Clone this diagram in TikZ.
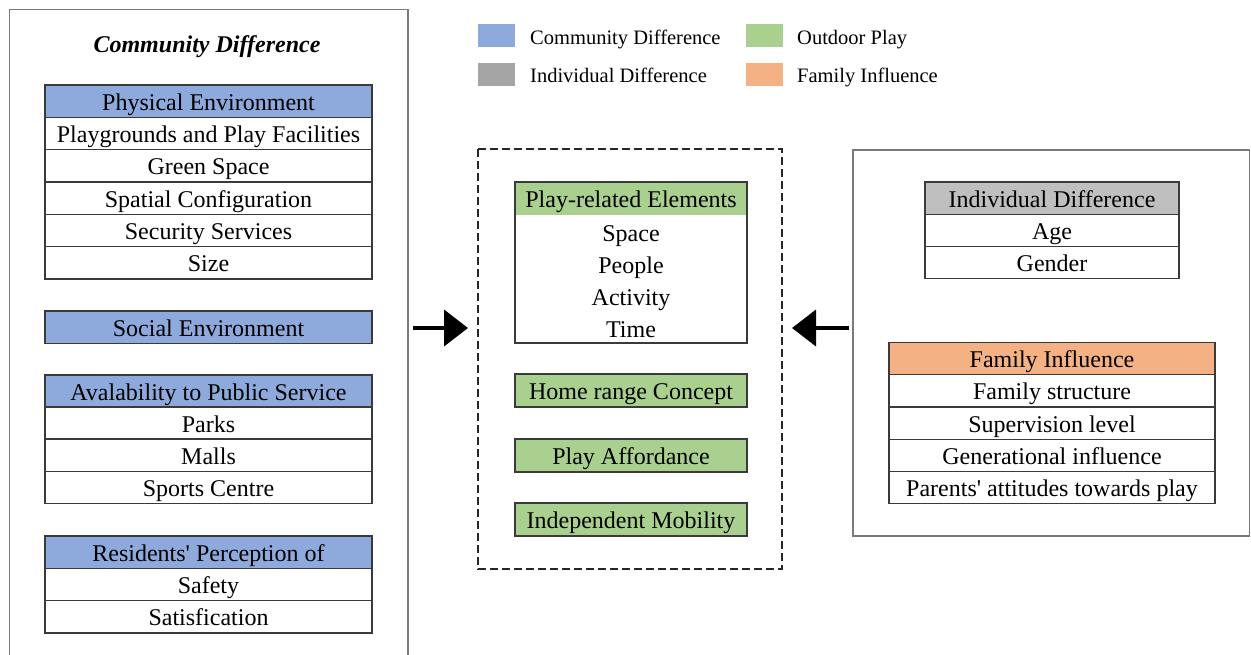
\documentclass[tikz,border=0pt]{standalone}
\usepackage{fontspec}
\setmainfont{Liberation Serif}
\usetikzlibrary{arrows.meta}
\definecolor{cblue}{HTML}{8EA9DB}
\definecolor{cgreen}{HTML}{A9D08E}
\definecolor{cgrayh}{HTML}{BFBFBF}
\definecolor{cgrayl}{HTML}{A5A5A5}
\definecolor{corange}{HTML}{F4B183}
\definecolor{cline}{HTML}{3A3A3A}
\definecolor{cframe}{HTML}{7A7A7A}
\begin{document}
\begin{tikzpicture}[x=1pt,y=-1pt,
  txt/.style={font=\fontsize{24}{28}\selectfont, inner sep=0pt, text=black, text height=22pt, text depth=4pt},
  cell/.style={txt, draw=cline, line width=1.3pt, minimum height=32.3pt, anchor=center},
  lwide/.style={cell, minimum width=327pt},
  cwide/.style={cell, minimum width=232pt, fill=cgreen},
  bluehead/.style={fill=cblue},
  frame/.style={draw=cframe, line width=1.4pt},
  legsw/.style={minimum width=37pt, minimum height=23pt, inner sep=0pt},
  legtxt/.style={font=\fontsize{20.5}{24}\selectfont, inner sep=0pt, anchor=west, text height=19pt, text depth=3pt},
  bigarrow/.style={line width=4pt, -{Triangle[length=24pt,width=36pt]}}
]
\useasboundingbox (0,0) rectangle (1251,654);
\clip (0,0) rectangle (1251,654);

% ---------------- left frame ----------------
\draw[frame] (9.5,9.5) rectangle (408,700);
\node[font=\fontsize{24}{28}\selectfont\bfseries\itshape, inner sep=0pt, text height=22pt, text depth=4pt] (ltitle) at (207,43) {Community Difference};

% Physical environment
\node[lwide, bluehead] (pe) at (208.5,101.2) {Physical Environment};
\node[lwide] (pe1) at (208.5,133.5) {Playgrounds and Play Facilities};
\node[lwide] (pe2) at (208.5,165.8) {Green Space};
\node[lwide] (pe3) at (208.5,198.2) {Spatial Configuration};
\node[lwide] (pe4) at (208.5,230.5) {Security Services};
\node[lwide] (pe5) at (208.5,262.8) {Size};

% Social environment
\node[lwide, bluehead] (se) at (208.5,327) {Social Environment};

% Availability
\node[lwide, bluehead] (av) at (208.5,391) {Avalability to Public Service};
\node[lwide] (av1) at (208.5,423) {Parks};
\node[lwide] (av2) at (208.5,455.2) {Malls};
\node[lwide] (av3) at (208.5,487.4) {Sports Centre};

% Residents
\node[lwide, bluehead] (rp) at (208.5,552.2) {Residents\textquotesingle\ Perception of};
\node[lwide] (rp1) at (208.5,584.5) {Safety};
\node[lwide] (rp2) at (208.5,616.8) {Satisfication};

% ---------------- legend ----------------
\node[legsw, fill=cblue] (lg1) at (496.5,35.5) {};
\node[legtxt] (lg1t) at (530,36) {Community Difference};
\node[legsw, fill=cgrayl] (lg2) at (496.5,74) {};
\node[legtxt] (lg2t) at (530,74) {Individual Difference};
\node[legsw, fill=cgreen] (lg3) at (764.5,35.5) {};
\node[legtxt] (lg3t) at (797,36) {Outdoor Play};
\node[legsw, fill=corange] (lg4) at (764.5,74) {};
\node[legtxt] (lg4t) at (797,74) {Family Influence};

% ---------------- centre ----------------
\draw[draw=black!85, line width=1.8pt, dash pattern=on 8pt off 4pt] (478,149) rectangle (782,569);
\node[txt, fill=cgreen, minimum width=232pt, minimum height=33pt] (pr) at (631,198.5) {Play-related Elements};
\draw[draw=cline, line width=1.3pt] (515,182) rectangle (747,343);
\node[txt] (pr1) at (631,232.5) {Space};
\node[txt] (pr2) at (631,264.5) {People};
\node[txt] (pr3) at (631,296.5) {Activity};
\node[txt] (pr4) at (631,328) {Time};

\node[cwide, minimum height=33pt] (hr) at (631,390.5) {Home range Concept};
\node[cwide, minimum height=33pt] (pa) at (631,455.5) {Play Affordance};
\node[cwide, minimum height=33pt] (im) at (631,519.5) {Independent Mobility};

% ---------------- right frame ----------------
\draw[frame] (853,150) rectangle (1249.5,536);
\node[cell, minimum width=254pt, fill=cgrayh] (id) at (1052,198) {Individual Difference};
\node[cell, minimum width=254pt] (id1) at (1052,230.5) {Age};
\node[cell, minimum width=254pt] (id2) at (1052,262.5) {Gender};

\node[cell, minimum width=326pt, fill=corange] (fi) at (1052,358.5) {Family Influence};
\node[cell, minimum width=326pt] (fi1) at (1052,390.8) {Family structure};
\node[cell, minimum width=326pt] (fi2) at (1052,423) {Supervision level};
\node[cell, minimum width=326pt] (fi3) at (1052,455.3) {Generational influence};
\node[cell, minimum width=326pt] (fi4) at (1052,487.6) {Parents\textquotesingle\ attitudes towards play};

% ---------------- arrows ----------------
\coordinate (la1) at (413,328);
\coordinate (la2) at (468,328);
\coordinate (ra1) at (849,328);
\coordinate (ra2) at (792,328);
\draw[bigarrow] (la1) -- (la2);
\draw[bigarrow] (ra1) -- (ra2);
\end{tikzpicture}
\end{document}
